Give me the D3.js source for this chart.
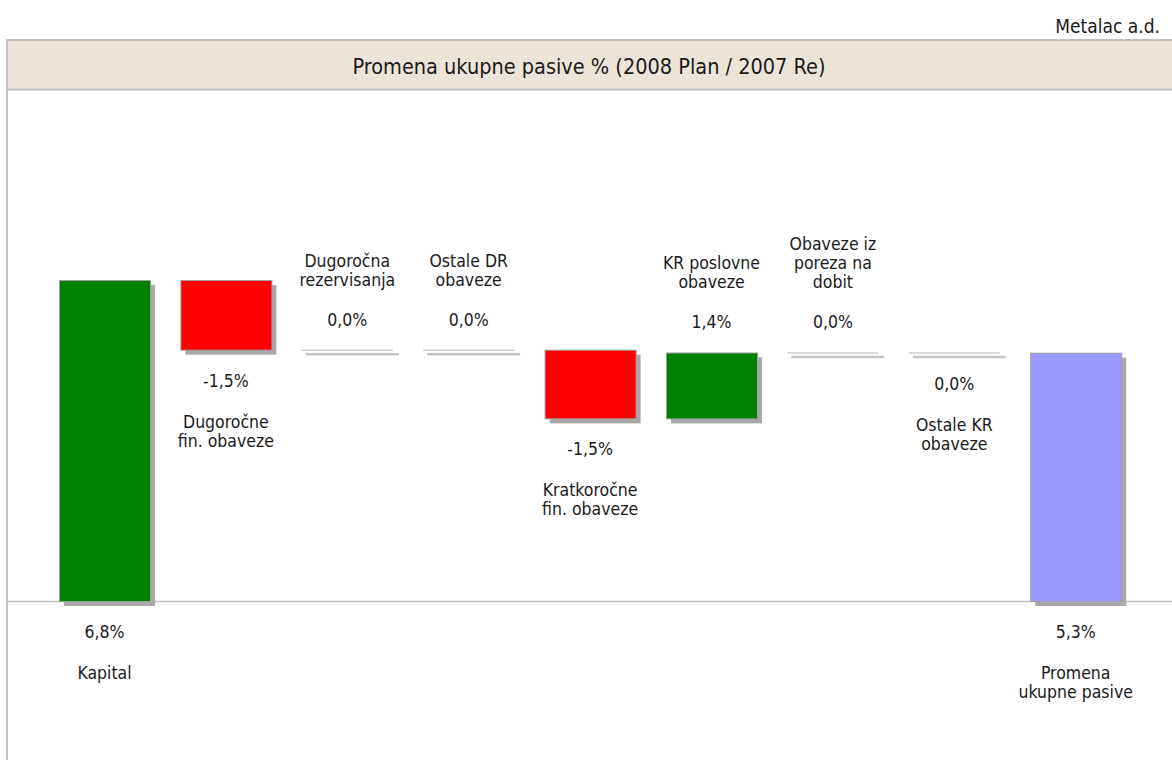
<!DOCTYPE html>
<html>
<head>
<meta charset="utf-8">
<script src="https://cdn.jsdelivr.net/npm/d3@7/dist/d3.min.js"></script>
<style>
  body { margin: 0; background: #fff; }
  text { font-family: "DejaVu Sans Condensed", "DejaVu Sans", sans-serif; fill: #1a1a1a; }
</style>
</head>
<body>
<div id="chart"></div>
<script>
// Promena ukupne pasive - waterfall
var categories = [
  ["Kapital"],
  ["Dugoročne", "fin. obaveze"],
  ["Dugoročna", "rezervisanja"],
  ["Ostale DR", "obaveze"],
  ["Kratkoročne", "fin. obaveze"],
  ["KR poslovne", "obaveze"],
  ["Obaveze iz", "poreza na", "dobit"],
  ["Ostale KR", "obaveze"],
  ["Promena", "ukupne pasive"]
];
var kinds = ["total", "delta", "delta", "delta", "delta", "delta", "delta", "delta", "total"];
// deltas in %, the last one is the computed total
var values = [6.82, -1.48, 0, 0, -1.46, 1.40, 0, -0.004, null];

var width = 1172, height = 760;

var svg = d3.select("#chart").append("svg")
    .attr("width", width)
    .attr("height", height);

// build running totals
var run = 0;
var data = categories.map(function(c, i) {
  var d = {i: i, lines: c, kind: kinds[i]};
  if (kinds[i] === "total") {
    if (values[i] !== null) run = values[i];
    d.value = run; d.start = 0; d.end = run;
  } else {
    d.value = values[i]; d.start = run; run += values[i]; d.end = run;
  }
  return d;
});

var x = d3.scaleBand()
    .domain(d3.range(categories.length))
    .range([43.8, 1136.4])
    .paddingInner(0.25)
    .paddingOuter(0.125);

var y = d3.scaleLinear()
    .domain([0, d3.max(data, function(d) { return Math.max(d.start, d.end); })])
    .range([601, 280]);

var fmt = function(v) {
  var r = Math.round(v * 10) / 10;
  if (r === 0) r = 0;
  return r.toFixed(1).replace(".", ",") + "%";
};

// header
svg.append("text")
    .attr("x", 1160).attr("y", 33)
    .attr("text-anchor", "end")
    .style("font-size", "19px")
    .text("Metalac a.d.");

svg.append("rect")
    .attr("x", 7).attr("y", 40)
    .attr("width", width - 7).attr("height", 49)
    .attr("fill", "#ede4d9");
svg.append("line").attr("x1", 6).attr("x2", width).attr("y1", 40).attr("y2", 40)
    .attr("stroke", "#c0c0c0").attr("stroke-width", 2);
svg.append("line").attr("x1", 6).attr("x2", width).attr("y1", 89.5).attr("y2", 89.5)
    .attr("stroke", "#c0c0c0").attr("stroke-width", 2);
svg.append("line").attr("x1", 7).attr("x2", 7).attr("y1", 39).attr("y2", height)
    .attr("stroke", "#c0c0c0").attr("stroke-width", 2);

svg.append("text")
    .attr("x", 589).attr("y", 74)
    .attr("text-anchor", "middle")
    .style("font-size", "21.5px")
    .text("Promena ukupne pasive % (2008 Plan / 2007 Re)");

// baseline
svg.append("line")
    .attr("x1", 7).attr("x2", width)
    .attr("y1", y(0) + 0.5).attr("y2", y(0) + 0.5)
    .attr("stroke", "#c0c0c0").attr("stroke-width", 1.5);

function barColor(d) {
  if (d.kind === "total") return d.i === 0 ? "#008000" : "#9999ff";
  return d.value < 0 ? "#ff0000" : "#008000";
}

var bars = svg.selectAll(".bar").data(data).enter().append("g").attr("class", "bar");

bars.each(function(d) {
  var g = d3.select(this);
  var top = y(Math.max(d.start, d.end)), bot = y(Math.min(d.start, d.end));
  var x0 = x(d.i), w = x.bandwidth();
  if (Math.abs(d.value) < 0.05) {
    // zero change: flat line with shadow
    g.append("line").attr("x1", x0 + 4).attr("x2", x0 + w + 6)
        .attr("y1", top + 4.5).attr("y2", top + 4.5)
        .attr("stroke", "#c4c4c4").attr("stroke-width", 2.5);
    g.append("line").attr("x1", x0).attr("x2", x0 + w)
        .attr("y1", top + 0.5).attr("y2", top + 0.5)
        .attr("stroke", "#b4b4b4").attr("stroke-width", 1);
  } else {
    g.append("rect").attr("x", x0 + 5).attr("y", top + 5)
        .attr("width", w).attr("height", bot - top)
        .attr("fill", "#a8a8a8");
    g.append("rect").attr("x", x0 + 0.5).attr("y", top + 0.5)
        .attr("width", w).attr("height", bot - top)
        .attr("fill", barColor(d))
        .attr("stroke", "#a0a0a0").attr("stroke-width", 1);
  }

  var cx = x0 + w / 2;
  var below = d.kind === "total" || d.value < 0;
  var vy, lineY;
  if (below) {
    vy = (d.kind === "total" ? y(0) : bot) + 37;
    lineY = d.lines.map(function(l, k) { return vy + 41 + k * 19; });
  } else {
    vy = top - 24;
    var n = d.lines.length;
    lineY = d.lines.map(function(l, k) { return vy - 40 - (n - 1 - k) * 19; });
  }
  g.append("text").attr("x", cx).attr("y", vy)
      .attr("text-anchor", "middle").style("font-size", "17.5px")
      .text(fmt(d.value));
  d.lines.forEach(function(l, k) {
    g.append("text").attr("x", cx).attr("y", lineY[k])
        .attr("text-anchor", "middle").style("font-size", "17.5px")
        .text(l);
  });
});
</script>
</body>
</html>
